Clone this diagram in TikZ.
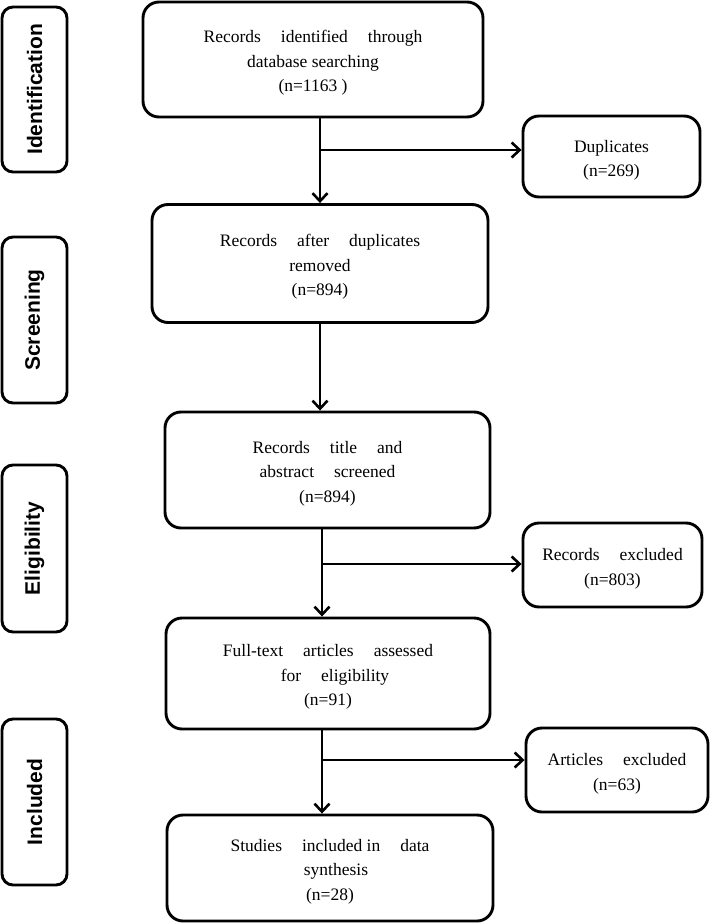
\documentclass[tikz,border=0pt]{standalone}
\usepackage{fontspec}
\setmainfont{Liberation Serif}
\newfontfamily\labfont{Liberation Sans}
\usetikzlibrary{arrows.meta}
\newcommand{\gp}{\hspace{20pt}}
\newcommand{\tp}{\rule{0pt}{19.5pt}}
\begin{document}
\begin{tikzpicture}[x=1pt,y=-1pt,
  box/.style={draw, line width=2.9pt, rounded corners=16pt, align=center,
    font=\fontsize{17.5}{24.5}\selectfont, inner sep=0pt},
  side/.style={draw, line width=2.9pt, rounded corners=11pt, rotate=90,
    minimum height=65pt, inner sep=0pt,
    font=\labfont\bfseries\fontsize{21}{24}\selectfont},
  arr/.style={line width=2.6pt, -{Straight Barb[length=8pt,width=15pt,line width=2.6pt]}}
]
\useasboundingbox (0,0) rectangle (711,923);

% stage labels
\node[side, minimum width=165pt] (sid) at (34.5,89.5) {Identification};
\node[side, minimum width=166pt] (ssc) at (34.5,320) {Screening};
\node[side, minimum width=167pt] (sel) at (34.5,548.5) {Eligibility};
\node[side, minimum width=166pt] (sin) at (34.5,802) {Included};

% main boxes
\node[box, minimum width=340pt, minimum height=115pt] (b1) at (313,59.5)
  {\tp Records\gp identified\gp through\\ database searching\\ (n=1163 )};
\node[box, minimum width=336pt, minimum height=118pt] (b2) at (320,263.5)
  {\tp Records\gp after\gp duplicates\\ removed\\ (n=894)};
\node[box, minimum width=325pt, minimum height=116pt] (b3) at (327.5,470)
  {\tp Records\gp title\gp and\\ abstract\gp screened\\ (n=894)};
\node[box, minimum width=324pt, minimum height=111pt] (b4) at (328,673.5)
  {\tp Full-text\gp articles\gp assessed\\ \hspace*{14pt}for\gp eligibility\\ (n=91)};
\node[box, minimum width=326pt, minimum height=106pt] (b5) at (330,868)
  {\tp Studies\gp included in\gp data\\ \hspace*{12pt}synthesis\\ (n=28)};

% side boxes
\node[box, minimum width=177pt, minimum height=81pt] (dup) at (611.5,156.5)
  {\tp Duplicates\\ (n=269)};
\node[box, minimum width=179pt, minimum height=84pt] (rex) at (612.5,565)
  {\tp Records\gp excluded\\ (n=803)};
\node[box, minimum width=182pt, minimum height=84pt] (aex) at (617,770)
  {\tp Articles\gp excluded\\ (n=63)};

% junction coordinates
\coordinate (j1) at (320,150);
\coordinate (j2) at (320,0);
\coordinate (j3) at (322,564);
\coordinate (j4) at (322,760);

% connectors
\draw[arr] (b1.south -| j1) -- (b2.north -| j1);
\draw[arr] (j1) -- (j1 -| dup.west);
\draw[arr] (b2.south -| j2) -- (b3.north -| j2);
\draw[arr] (b3.south -| j3) -- (b4.north -| j3);
\draw[arr] (j3) -- (j3 -| rex.west);
\draw[arr] (b4.south -| j4) -- (b5.north -| j4);
\draw[arr] (j4) -- (j4 -| aex.west);
\end{tikzpicture}
\end{document}
